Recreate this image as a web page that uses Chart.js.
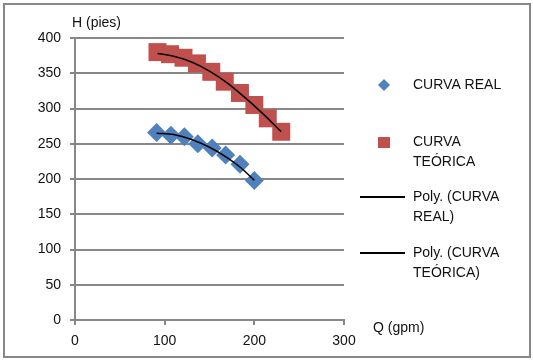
<!DOCTYPE html>
<html>
<head>
<meta charset="utf-8">
<script src="https://cdn.jsdelivr.net/npm/chart.js@4/dist/chart.umd.min.js"></script>
<style>
  body { margin: 0; background: #fff; }
  canvas { display: block; }
</style>
</head>
<body>
<canvas id="canvas" width="533" height="361"></canvas>
<script>
// datos
const qReal = [91, 107, 122, 137, 153, 168, 184, 200];
const hReal = [266, 262, 260, 250, 244, 234, 221, 198];

const qTeorica = [92, 106, 121, 136, 152, 167, 184, 200, 215, 230];
const hTeorica = [380, 377, 372, 364, 352, 338, 322, 305, 286, 267];

// puntos de las lineas de tendencia
const qPolyReal = [91, 110, 130, 150, 170, 185, 200];
const hPolyReal = [265, 263, 256, 245, 230, 216, 198];

const qPolyTeorica = [92, 110, 130, 150, 170, 190, 210, 230];
const hPolyTeorica = [378, 374, 366, 353, 336, 315, 292, 267];

const xTicks = [0, 100, 200, 300];
const yTicks = [0, 50, 100, 150, 200, 250, 300, 350, 400];

const toXY = (xs, ys) => xs.map((x, i) => ({ x: x, y: ys[i] }));

const FONT = "'Liberation Sans', Arial, sans-serif";
const GRAY = "#878787";
const TEXT = "#111";

const ctx = document.getElementById("canvas").getContext("2d");

// marco, titulos de ejes y leyenda
const extras = {
  id: "extras",
  afterDraw(chart) {
    const c = chart.ctx;
    c.save();
    c.strokeStyle = GRAY;
    c.lineWidth = 2;
    c.strokeRect(4, 4, 526, 353);

    c.fillStyle = TEXT;
    c.font = "14px " + FONT;
    c.textBaseline = "middle";
    c.textAlign = "left";
    c.fillText("H (pies)", 72, 23);
    c.fillText("Q (gpm)", 373, 328);

    // leyenda
    c.fillStyle = "#4f81bd";
    c.beginPath();
    c.moveTo(384, 79);
    c.lineTo(390, 85);
    c.lineTo(384, 91);
    c.lineTo(378, 85);
    c.closePath();
    c.fill();

    c.fillStyle = "#c0504d";
    c.fillRect(378, 137, 12, 11);

    c.strokeStyle = "#000";
    c.lineWidth = 2;
    c.beginPath();
    c.moveTo(360, 197);
    c.lineTo(405, 197);
    c.moveTo(360, 253);
    c.lineTo(405, 253);
    c.stroke();

    c.fillStyle = TEXT;
    c.fillText("CURVA REAL", 413, 85);
    c.fillText("CURVA", 413, 142);
    c.fillText("TEÓRICA", 413, 162);
    c.fillText("Poly. (CURVA", 413, 197);
    c.fillText("REAL)", 413, 217);
    c.fillText("Poly. (CURVA", 413, 253);
    c.fillText("TEÓRICA)", 413, 273);
    c.restore();
  },
};

const myChart = new Chart(ctx, {
  type: "scatter",
  data: {
    datasets: [
      {
        label: "Poly. (CURVA REAL)",
        data: toXY(qPolyReal, hPolyReal),
        showLine: true,
        borderColor: "#000",
        borderWidth: 1.5,
        pointRadius: 0,
        cubicInterpolationMode: "monotone",
        order: 0,
      },
      {
        label: "Poly. (CURVA TEÓRICA)",
        data: toXY(qPolyTeorica, hPolyTeorica),
        showLine: true,
        borderColor: "#000",
        borderWidth: 1.5,
        pointRadius: 0,
        cubicInterpolationMode: "monotone",
        order: 0,
      },
      {
        label: "CURVA REAL",
        data: toXY(qReal, hReal),
        pointStyle: "rectRot",
        pointRadius: 9.5,
        backgroundColor: "#4f81bd",
        borderColor: "#4f81bd",
        borderWidth: 0,
        order: 1,
      },
      {
        label: "CURVA TEÓRICA",
        data: toXY(qTeorica, hTeorica),
        pointStyle: "rect",
        pointRadius: 12.7,
        backgroundColor: "#c0504d",
        borderColor: "#c0504d",
        borderWidth: 0,
        order: 2,
      },
    ],
  },
  options: {
    responsive: false,
    animation: false,
    layout: {
      padding: { left: 0, top: 38, right: 189, bottom: 0 },
    },
    plugins: {
      legend: { display: false },
      tooltip: { enabled: false },
    },
    scales: {
      x: {
        type: "linear",
        min: 0,
        max: 300,
        afterBuildTicks: (s) => { s.ticks = xTicks.map((v) => ({ value: v })); },
        afterFit: (s) => { s.height = 41; },
        ticks: {
          color: TEXT,
          padding: 8,
          font: { size: 14, family: FONT },
        },
        grid: {
          drawOnChartArea: false,
          tickLength: 5,
          color: GRAY,
          lineWidth: 2,
        },
        border: { color: GRAY, width: 2 },
      },
      y: {
        min: 0,
        max: 400,
        afterBuildTicks: (s) => { s.ticks = yTicks.map((v) => ({ value: v })); },
        afterFit: (s) => { s.width = 75; },
        ticks: {
          color: TEXT,
          padding: 9,
          font: { size: 14, family: FONT },
        },
        grid: {
          tickLength: 5,
          color: GRAY,
          lineWidth: 2,
        },
        border: { color: GRAY, width: 2 },
      },
    },
  },
  plugins: [extras],
});
</script>
</body>
</html>
